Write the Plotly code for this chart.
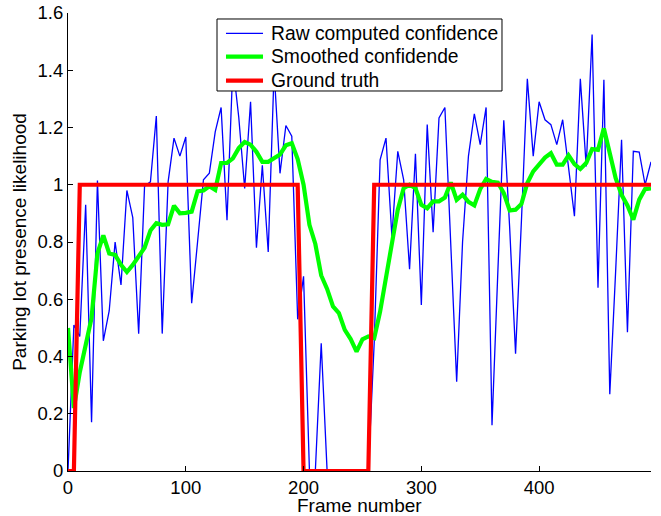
import plotly.graph_objects as go

frames = list(range(0, 500, 5))

raw_confidence = [
    0.0, 0.51, 0.47, 0.93, 0.17, 1.015, 0.455, 0.56, 0.80, 0.65,
    0.98, 0.885, 0.48, 0.995, 1.01, 1.24, 0.48, 1.01, 1.163, 1.10,
    1.167, 0.586, 0.80, 1.017, 1.04, 1.185, 1.27, 0.876, 1.42, 1.235,
    0.987, 1.29, 0.78, 1.068, 0.765, 1.40, 1.04, 1.207, 1.17, 0.53,
    0.68, 0.0, 0.0, 0.446, 0.0, 0.0, 0.0, 0.0, 0.0, 0.0,
    0.0, 0.0, 0.45, 1.087, 1.163, 0.82, 1.117, 1.017, 0.705, 1.108,
    0.58, 1.21, 0.834, 1.233, 1.27, 0.78, 0.312, 0.80, 1.10, 1.248,
    1.14, 1.27, 0.16, 0.70, 1.225, 0.85, 0.41, 0.875, 1.37, 1.10,
    1.29, 1.227, 1.21, 1.14, 1.227, 1.06, 0.89, 1.37, 1.064, 1.525,
    0.64, 1.367, 0.268, 0.70, 1.157, 0.485, 1.117, 1.114, 1.0, 1.08,
]

smoothed_confidence = [
    0.50, 0.22, 0.345, 0.435, 0.535, 0.76, 0.823, 0.76, 0.755, 0.72,
    0.695, 0.72, 0.75, 0.78, 0.84, 0.866, 0.86, 0.862, 0.927, 0.90,
    0.902, 0.906, 0.977, 0.98, 0.995, 0.982, 1.076, 1.076, 1.092, 1.128,
    1.149, 1.14, 1.115, 1.08, 1.08, 1.094, 1.106, 1.138, 1.145, 1.09,
    1.0, 0.86, 0.793, 0.683, 0.636, 0.575, 0.552, 0.493, 0.461, 0.417,
    0.46, 0.47, 0.464, 0.557, 0.68, 0.784, 0.913, 0.988, 1.0, 0.988,
    0.93, 0.918, 0.942, 0.942, 0.955, 1.008, 0.947, 0.965, 0.94, 0.928,
    0.985, 1.02, 1.01, 1.007, 0.971, 0.91, 0.913, 0.933, 1.006, 1.047,
    1.071, 1.095, 1.11, 1.07, 1.07, 1.103, 1.072, 1.055, 1.076, 1.125,
    1.122, 1.197, 1.11, 1.023, 0.965, 0.928, 0.878, 0.948, 0.985, 0.987,
]

ground_truth = (
    [0, 0] + [1] * 38 + [0] * 12 + [1] * 48
)

series_names = ["Raw computed confidence", "Smoothed confidende", "Ground truth"]
series_colors = ["#0000FF", "#00FF00", "#FF0000"]
series_widths = [1.3, 4.2, 4.2]

x_ticks = [0, 100, 200, 300, 400]
y_ticks = [0, 0.2, 0.4, 0.6, 0.8, 1.0, 1.2, 1.4, 1.6]
y_tick_labels = ["0", "0.2", "0.4", "0.6", "0.8", "1", "1.2", "1.4", "1.6"]
x_title = "Frame number"
y_title = "Parking lot presence likelihood"

FONT = "Liberation Sans, Arial, Helvetica, sans-serif"

fig = go.Figure()
for name, ys, col, w in zip(series_names,
                            [raw_confidence, smoothed_confidence, ground_truth],
                            series_colors, series_widths):
    fig.add_trace(go.Scatter(x=frames, y=ys, mode="lines", name=name,
                             showlegend=False,
                             line=dict(color=col, width=w)))

# Legend box (MATLAB style), placed in plot-area (paper) coordinates
shapes = [dict(type="rect", xref="paper", yref="paper",
               x0=0.2556, x1=0.7444, y0=0.8297, y1=0.9869,
               fillcolor="white", line=dict(color="black", width=1),
               layer="above")]
annotations = []
row_y = [0.9557, 0.9046, 0.8522]
for name, col, w, yy in zip(series_names, series_colors, series_widths, row_y):
    shapes.append(dict(type="line", xref="paper", yref="paper",
                       x0=0.2710, x1=0.3345, y0=yy, y1=yy,
                       line=dict(color=col, width=w), layer="above"))
    annotations.append(dict(xref="paper", yref="paper", x=0.3448, y=yy,
                            xanchor="left", yanchor="middle", showarrow=False,
                            text=name, font=dict(size=19.3, color="black")))

# x-axis title placed just under the tick labels
annotations.append(dict(xref="paper", yref="paper", x=0.5, y=0,
                        xanchor="center", yanchor="middle", yshift=-34,
                        borderpad=0, showarrow=False, text=x_title,
                        font=dict(size=19, color="black")))

fig.update_layout(
    width=661, height=516,
    margin=dict(l=68, r=10, t=13, b=45, autoexpand=False),
    paper_bgcolor="white", plot_bgcolor="white",
    font=dict(family=FONT, size=19, color="black"),
    shapes=shapes, annotations=annotations,
    xaxis=dict(
        range=[0, 495], tickvals=x_ticks, ticks="inside", ticklen=5,
        tickcolor="black", showline=True, linecolor="black", linewidth=1,
        showgrid=False, zeroline=False, mirror=False, automargin=False,
        tickfont=dict(size=18.5),
    ),
    yaxis=dict(
        range=[0, 1.6], tickvals=y_ticks, ticktext=y_tick_labels,
        ticks="inside", ticklen=5, ticklabeloverflow="allow",
        tickcolor="black", showline=True, linecolor="black", linewidth=1,
        showgrid=False, zeroline=False, mirror=False, automargin=False,
        tickfont=dict(size=18.5),
        title=dict(text=y_title, standoff=5, font=dict(size=19)),
    ),
)

fig.write_html("out.html",
               config={"displayModeBar": False},
               post_script="document.body.style.margin='0';")
